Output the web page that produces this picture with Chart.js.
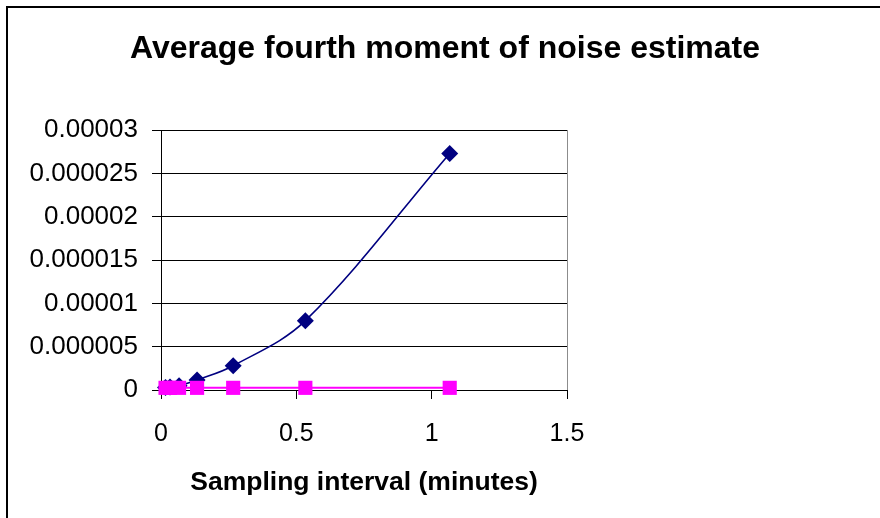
<!DOCTYPE html>
<html>
<head>
<meta charset="utf-8">
<script src="https://cdn.jsdelivr.net/npm/chart.js@4"></script>
<style>
  body { margin: 0; background: #fff; }
  canvas { display: block; }
</style>
</head>
<body>
<canvas id="graph1" width="880" height="518"></canvas>
<script>
const titre = 'Average fourth moment of noise estimate';
const titreX = 'Sampling interval (minutes)';

// sampling interval in minutes
const intervalles = [0.0167, 0.0333, 0.0667, 0.1333, 0.2667, 0.5333, 1.0667];
// the two series
const moment4 = [3.0e-7, 3.5e-7, 5.0e-7, 1.15e-6, 2.8e-6, 8.0e-6, 2.73e-5];
const moment4b = [2.5e-7, 2.5e-7, 2.5e-7, 2.5e-7, 2.5e-7, 2.5e-7, 2.5e-7];

const xTicks = ['0', '0.5', '1', '1.5'];
const yTicks = ['0', '0.000005', '0.00001', '0.000015', '0.00002', '0.000025', '0.00003'];

const police = "'Liberation Sans', Arial, sans-serif";

const points = (ys) => intervalles.map((x, i) => ({ x: x, y: ys[i] }));

// white page, outer frame and the big title
const cadre = {
  id: 'cadre',
  beforeDraw(chart) {
    const ctx = chart.ctx;
    ctx.save();
    ctx.fillStyle = '#fff';
    ctx.fillRect(0, 0, chart.width, chart.height);
    ctx.strokeStyle = '#000';
    ctx.lineWidth = 2;
    ctx.strokeRect(7, 7, 900, 540);
    ctx.fillStyle = '#000';
    ctx.font = 'bold 32px ' + police;
    ctx.textAlign = 'center';
    ctx.textBaseline = 'middle';
    ctx.fillText(titre, 445, 49);
    ctx.restore();
  }
};

const data = {
  datasets: [{
    label: 'serie 1',
    data: points(moment4),
    borderColor: '#000080',
    backgroundColor: '#000080',
    borderWidth: 1.6,
    pointStyle: 'rectRot',
    pointRadius: 8.5,
    pointBorderWidth: 0,
    tension: 0.35,
    showLine: true,
    clip: false,
    order: 1
  }, {
    label: 'serie 2',
    data: points(moment4b),
    borderColor: '#ff00ff',
    backgroundColor: '#ff00ff',
    borderWidth: 2,
    pointStyle: 'rect',
    pointRadius: 10,
    pointBorderWidth: 0,
    tension: 0.35,
    showLine: true,
    clip: false,
    order: 0
  }]
};

const config = {
  type: 'scatter',
  data: data,
  options: {
    responsive: false,
    animation: false,
    layout: { padding: { left: 0, top: 130, right: 313, bottom: 0 } },
    plugins: {
      legend: { display: false },
      title: { display: false },
      tooltip: { enabled: false }
    },
    scales: {
      x: {
        type: 'linear',
        min: 0,
        max: 1.5,
        afterFit: (scale) => { scale.height = 128; },
        ticks: {
          stepSize: 0.5,
          color: '#000',
          padding: 20,
          font: { family: police, size: 25 },
          callback: (v, i) => xTicks[i]
        },
        grid: {
          drawOnChartArea: true,
          color: (c) => (c.tick && c.tick.value === 1.5) ? '#8c8c8c' : 'rgba(0,0,0,0)',
          tickColor: '#000',
          tickLength: 9
        },
        border: { color: '#000', width: 1 },
        title: {
          display: true,
          text: titreX,
          color: '#000',
          font: { family: police, size: 26.5, weight: 'bold' },
          padding: { top: 0, bottom: 19 }
        }
      },
      y: {
        type: 'linear',
        min: 0,
        max: 0.00003,
        afterFit: (scale) => { scale.width = 161; },
        ticks: {
          stepSize: 0.000005,
          color: '#000',
          padding: 14,
          font: { family: police, size: 26 },
          callback: (v, i) => yTicks[i]
        },
        grid: {
          color: '#000',
          tickLength: 9
        },
        border: { color: '#000', width: 1 }
      }
    }
  },
  plugins: [cadre]
};

new Chart(document.querySelector('#graph1'), config);
</script>
</body>
</html>
